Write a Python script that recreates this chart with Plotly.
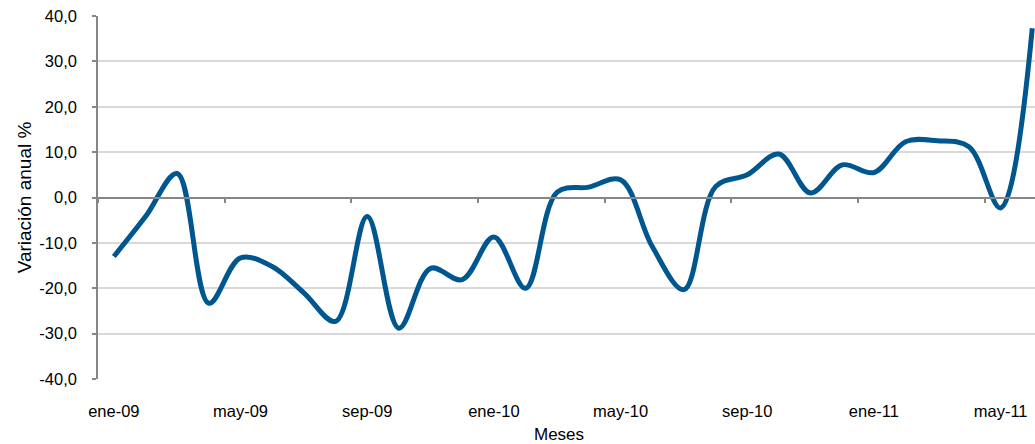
import plotly.graph_objects as go

months = ["ene-09", "feb-09", "mar-09", "abr-09", "may-09", "jun-09", "jul-09", "ago-09",
          "sep-09", "oct-09", "nov-09", "dic-09", "ene-10", "feb-10", "mar-10", "abr-10",
          "may-10", "jun-10", "jul-10", "ago-10", "sep-10", "oct-10", "nov-10", "dic-10",
          "ene-11", "feb-11", "mar-11", "abr-11", "may-11", "jun-11"]
variacion = [-13.0, -4.2, 5.3, -23.3, -13.3, -15.2, -21.0, -27.3,
             -4.2, -28.8, -15.6, -18.1, -8.7, -20.0, 1.2, 2.3,
             3.9, -10.8, -20.3, 2.4, 5.0, 9.6, 1.0, 7.2,
             5.5, 12.3, 12.5, 11.2, -2.3, 37.3]
label_months = months[::4]
y_ticks = [-40, -30, -20, -10, 0, 10, 20, 30, 40]
y_tick_labels = ["-40,0", "-30,0", "-20,0", "-10,0", "0,0", "10,0", "20,0", "30,0", "40,0"]

idx = list(range(len(months)))
label_pos = [months.index(m) for m in label_months]
boundaries = [p - 0.5 for p in label_pos]

LINE = "#00568F"
AXIS = "#868686"
GRID = "#D9D9D9"
FONT = "Liberation Sans, Arial, sans-serif"

W, H = 1035, 444
L, T, B = 98, 16, 65
plot_w = W - L
plot_h = H - T - B

fig = go.Figure()
# invisible copy on the zero-line axis so that axis is drawn
fig.add_trace(go.Scatter(
    x=idx, y=variacion, mode="lines", xaxis="x2",
    line=dict(color="rgba(0,0,0,0)", width=0),
    hoverinfo="skip", showlegend=False,
))
fig.add_trace(go.Scatter(
    x=idx, y=variacion, mode="lines",
    line=dict(color=LINE, width=5, shape="spline", smoothing=1.0),
    hoverinfo="skip", showlegend=False,
))

xr = [-0.5, -0.5 + plot_w / 31.67]
fig.update_layout(
    width=W, height=H,
    margin=dict(l=L, r=0, t=T, b=B, autoexpand=False),
    paper_bgcolor="white", plot_bgcolor="white",
    font=dict(family=FONT, size=16, color="#000000"),
    xaxis=dict(
        range=xr, automargin=False,
        showline=False, ticks="", showgrid=False, zeroline=False,
        tickvals=label_pos, ticktext=label_months, ticklabeloverflow="allow",
        tickfont=dict(size=16.5), ticklabelstandoff=20,
    ),
    xaxis2=dict(
        range=xr, overlaying="x", anchor="free", position=0.5, automargin=False,
        showline=True, linecolor=AXIS, linewidth=2,
        ticks="outside", ticklen=4, tickwidth=1.5, tickcolor=AXIS,
        tickvals=boundaries, showticklabels=False, showgrid=False, zeroline=False,
    ),
    yaxis=dict(
        range=[-40, 40.01], tickvals=y_ticks, ticktext=y_tick_labels, automargin=False,
        showline=True, linecolor=AXIS, linewidth=1.5,
        ticks="outside", ticklen=4, tickwidth=1.5, tickcolor=AXIS,
        showgrid=True, gridcolor=GRID, gridwidth=1.5, zeroline=False,
        tickfont=dict(size=16.5), ticklabelstandoff=12, ticklabeloverflow="allow",
        title=dict(text="Variación anual %", font=dict(size=19), standoff=3),
    ),
    annotations=[dict(
        text="Meses", xref="paper", yref="paper",
        x=(559 - L) / plot_w, y=-(434 - 379) / plot_h, xanchor="center", yanchor="middle",
        showarrow=False, font=dict(size=17),
    )],
)

fig.write_html(
    "out.html",
    config={"displayModeBar": False},
    post_script="document.body.style.margin='0';document.body.style.overflow='hidden';",
)
